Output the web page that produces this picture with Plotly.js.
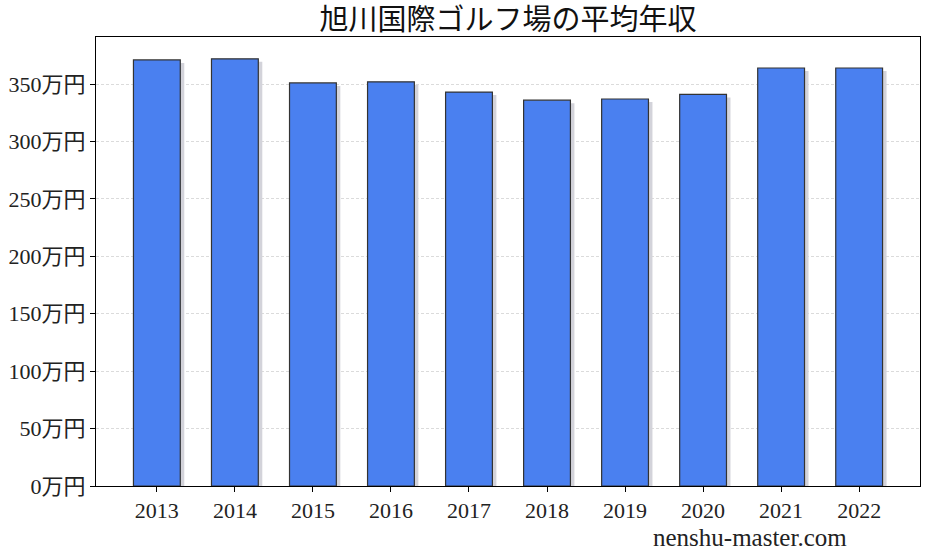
<!DOCTYPE html>
<html>
<head>
<meta charset="utf-8">
<script src="https://cdn.plot.ly/plotly-3.0.1.min.js"></script>
<style>
  html, body { margin: 0; padding: 0; background: #fff; }
  #chart { width: 927px; height: 555px; }
</style>
</head>
<body>
<div id="chart"></div>
<script>
const years = ["2013", "2014", "2015", "2016", "2017", "2018", "2019", "2020", "2021", "2022"];
const salary = [371, 372, 351, 352, 343, 336, 337, 341, 364, 364];
const yTicks = [0, 50, 100, 150, 200, 250, 300, 350];
const yTickLabels = yTicks.map(v => v + "万円");

const FONT = "'Liberation Serif', 'DejaVu Serif', 'Noto Sans CJK JP', serif";

// shadow offset in pixels, converted to data units
const plotW = 824, plotH = 449;
const yMax = 391;
const xLo = -0.78, xHi = 9.78;
const dx = 4 * (xHi - xLo) / plotW;
const dy = 3 * yMax / plotH;

const idx = years.map((_, i) => i);

const shadow = {
  type: "bar",
  x: idx.map(i => i + dx),
  y: salary,
  base: -dy,
  width: 0.6,
  marker: { color: "#d3d3da", line: { width: 0 } },
  hoverinfo: "skip",
  showlegend: false,
};

const bars = {
  type: "bar",
  x: idx,
  y: salary,
  width: 0.6,
  marker: { color: "#4a80f0", line: { color: "#333333", width: 1.2 } },
  showlegend: false,
};

const layout = {
  width: 927,
  height: 555,
  barmode: "overlay",
  paper_bgcolor: "#ffffff",
  plot_bgcolor: "#ffffff",
  margin: { l: 96, r: 7, t: 37, b: 69 },
  font: { family: FONT, color: "#222222" },
  title: {
    text: "旭川国際ゴルフ場の平均年収",
    font: { family: FONT, size: 29, color: "#111111" },
    xref: "paper", x: 0.5, xanchor: "center", y: 0.965, yanchor: "middle",
  },
  xaxis: {
    range: [xLo, xHi],
    tickmode: "array",
    tickvals: idx,
    ticktext: years,
    ticks: "outside", ticklen: 5, tickcolor: "#000",
    tickfont: { size: 22, family: FONT, color: "#222" },
    showgrid: false, zeroline: false,
    showline: true, linecolor: "#000", linewidth: 1, mirror: true,
  },
  yaxis: {
    range: [0, yMax],
    tickmode: "array",
    tickvals: yTicks,
    ticktext: yTickLabels,
    ticks: "outside", ticklen: 5, tickcolor: "#000",
    tickfont: { size: 22, family: FONT, color: "#222" },
    showgrid: true, gridcolor: "#cccccc", griddash: "3px,2px", gridwidth: 0.7,
    zeroline: false,
    showline: true, linecolor: "#000", linewidth: 1, mirror: true,
  },
  annotations: [{
    text: "nenshu-master.com",
    xref: "paper", yref: "paper",
    x: 0.794, y: -0.114, xanchor: "center", yanchor: "middle",
    showarrow: false,
    font: { family: FONT, size: 25, color: "#222" },
  }],
};

Plotly.newPlot("chart", [shadow, bars], layout, { displayModeBar: false, staticPlot: true });
</script>
</body>
</html>
